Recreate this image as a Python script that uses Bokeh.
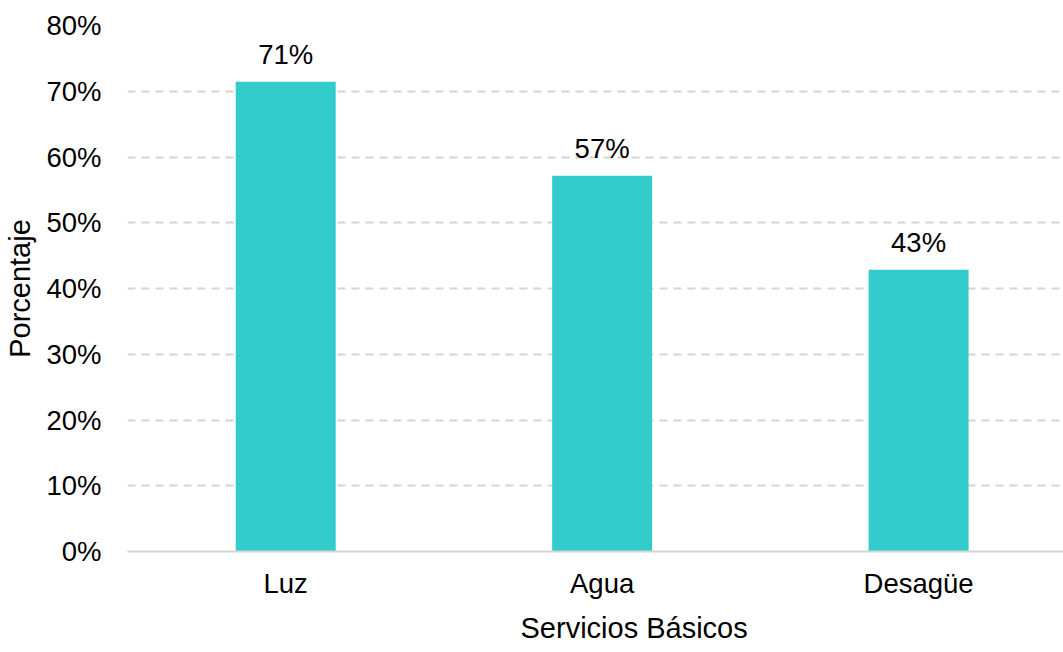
from bokeh.plotting import figure
from bokeh.models import Range1d, FixedTicker, NumeralTickFormatter, ColumnDataSource, Title
from bokeh.core.properties import value
from bokeh.embed import file_html
from bokeh.resources import INLINE

categories = ["Luz", "Agua", "Desagüe"]
values = [0.7143, 0.5714, 0.4286]
y_ticks = [0.0, 0.1, 0.2, 0.3, 0.4, 0.5, 0.6, 0.7, 0.8]
x_title = "Servicios Básicos"
y_title = "Porcentaje"

xs = [i + 0.5 for i in range(len(categories))]
labels = [f"{round(v * 100)}%" for v in values]
src = ColumnDataSource(dict(x=xs, top=values, label=labels))

FONT = "Liberation Sans"
FS = "27.5px"
FS_T = "29px"

p = figure(width=1063, height=652, output_backend="svg", toolbar_location=None,
           x_range=Range1d(0, 2.958), y_range=Range1d(0, 0.8),
           min_border_left=127, min_border_right=0, min_border_top=25, min_border_bottom=100)
p.outline_line_color = None

p.vbar(x="x", top="top", width=0.316, bottom=0, source=src, fill_color="#33CCCC", line_color=None)
p.text(x="x", y="top", text="label", source=src, text_align="center", text_baseline="alphabetic",
       y_offset=-27, text_font=value(FONT), text_font_size=FS, text_color="#000000")

p.xgrid.grid_line_color = None
p.ygrid.grid_line_color = "#d4d4d4"
p.ygrid.grid_line_width = 2
p.ygrid.grid_line_dash = "8 6"
p.yaxis.ticker = FixedTicker(ticks=y_ticks)
p.yaxis.formatter = NumeralTickFormatter(format="0%")
p.xaxis.ticker = FixedTicker(ticks=xs)
p.xaxis.major_label_overrides = {x: c for x, c in zip(xs, categories)}

for ax in (p.xaxis[0], p.yaxis[0]):
    ax.major_tick_line_color = None
    ax.minor_tick_line_color = None
    ax.major_tick_out = 0
    ax.major_tick_in = 0
    ax.major_label_text_font = FONT
    ax.major_label_text_font_size = FS
    ax.major_label_text_color = "#000000"
    ax.axis_label_text_font = FONT
    ax.axis_label_text_font_size = FS_T
    ax.axis_label_text_font_style = "normal"
    ax.axis_label_text_color = "#000000"

p.yaxis.axis_line_color = None
p.yaxis.major_label_standoff = 26
p.yaxis.axis_label = y_title
p.yaxis.axis_label_standoff = 7
p.xaxis.axis_line_color = "#d4d4d4"
p.xaxis.axis_line_width = 2
p.xaxis.major_label_standoff = 16

xt = Title(text=x_title, align="left", offset=393, standoff=17,
           text_font=FONT, text_font_size=FS_T, text_font_style="normal", text_color="#000000")
p.add_layout(xt, "below")

open("out.html", "w").write(file_html(p, INLINE))
